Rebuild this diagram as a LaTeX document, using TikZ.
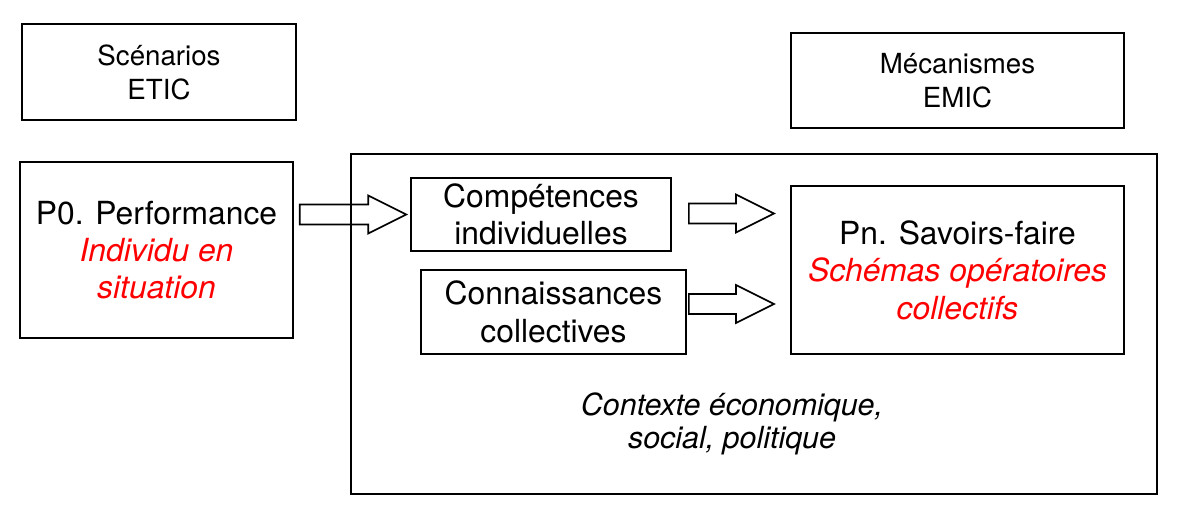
\documentclass[tikz,border=0pt]{standalone}
\usepackage{fontspec}
\setmainfont{TeX Gyre Heros}
\usetikzlibrary{calc,positioning}

% hollow block arrow from #1 (tail) to #2 (tip), pixel units
\newcommand\blockarrow[2]{%
  \draw[barr] ($(#1)+(0,10)$) -- ($(#2)+(-38,10)$) -- ($(#2)+(-38,19)$)
    -- (#2) -- ($(#2)+(-38,-19)$) -- ($(#2)+(-38,-10)$)
    -- ($(#1)+(0,-10)$) -- cycle;}

\begin{document}
\begin{tikzpicture}[
  x=0.254mm, y=-0.254mm,
  bx/.style   = {draw, line width=1.3pt, inner sep=0pt, align=center},
  big/.style  = {font=\fontsize{23}{27}\selectfont},
  sml/.style  = {font=\fontsize{20}{24.5}\selectfont},
  ctxt/.style = {font=\fontsize{22}{23.5}\selectfont\itshape, align=center},
  barr/.style = {draw, line width=1.2pt, line join=miter},
]
\useasboundingbox (0,0) rectangle (1181,518);

%% ---- top labels ------------------------------------------------------------
\node[bx, sml, minimum width=69.6mm, minimum height=24.4mm] (scen) at (159,72)
  {Scénarios\\ETIC};
\node[bx, sml, minimum width=84.6mm, minimum height=24.1mm] (meca) at (957.5,80.5)
  {Mécanismes\\EMIC};

%% ---- individual performance ------------------------------------------------
\node[bx, big, minimum width=69.3mm, minimum height=44.7mm] (perf) at (156.5,250)
  {P0. Performance\\{\color{red}\itshape Individu en}\\{\color{red}\itshape situation}};

%% ---- context ---------------------------------------------------------------
\node[bx, minimum width=204.7mm, minimum height=86.4mm] (ctx) at (754,324) {};
\node[ctxt] (ctxlbl) at (732,424) {Contexte économique,\\social, politique};

\node[bx, big, minimum width=66.0mm, minimum height=18.5mm] (comp) at (541,214.5)
  {Compétences\\individuelles};
\node[bx, big, minimum width=67.3mm, minimum height=21.3mm] (conn) at (553.5,312)
  {Connaissances\\collectives};
\node[bx, big, minimum width=84.6mm, minimum height=42.7mm] (savo) at (957.5,270)
  {Pn. Savoirs-faire\\{\color{red}\itshape Schémas opératoires}\\{\color{red}\itshape collectifs}};

%% ---- arrows ----------------------------------------------------------------
\coordinate (a1s) at ($(perf.east |- comp.west)+(6,0)$);
\coordinate (a1t) at ($(comp.west)+(-4,0)$);
\coordinate (a2s) at ($(comp.east)+(17,-1)$);
\coordinate (a2t) at ($(savo.west |- comp.west)+(-16,-1)$);
\coordinate (a3s) at ($(conn.east)+(2,-8)$);
\coordinate (a3t) at ($(savo.west |- conn.west)+(-16,-8)$);
\blockarrow{a1s}{a1t}
\blockarrow{a2s}{a2t}
\blockarrow{a3s}{a3t}

\end{tikzpicture}
\end{document}
